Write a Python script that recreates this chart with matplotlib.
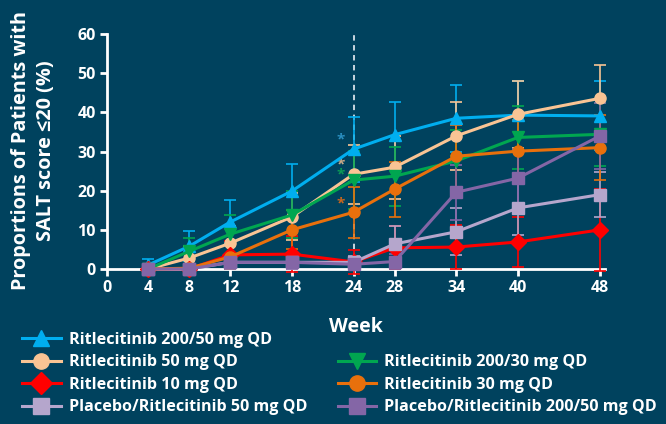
import matplotlib.pyplot as plt
from matplotlib.lines import Line2D

weeks = [4, 8, 12, 18, 24, 28, 34, 40, 48]
week_ticks = [0, 4, 8, 12, 18, 24, 28, 34, 40, 48]

# values (%), with half-width of the error bars
r200_50 = [1.0, 5.8, 12.0, 19.9, 30.6, 34.3, 38.5, 39.3, 39.1]
r200_50_err = [1.5, 3.8, 5.5, 7.0, 8.3, 8.4, 8.6, 8.6, 8.8]
r50 = [0.0, 2.8, 6.6, 13.3, 24.2, 26.0, 34.0, 39.5, 43.6]
r50_err = [0.0, 3.0, 4.5, 6.0, 7.5, 8.0, 8.6, 8.5, 8.5]
r10 = [0.0, 0.0, 3.6, 3.8, 1.8, 5.4, 5.6, 6.9, 10.0]
r10_err = [0.0, 0.0, 3.5, 4.5, 3.0, 5.5, 5.6, 6.4, 10.5]
pbo50 = [0.0, 0.0, 1.7, 1.7, 1.7, 6.4, 9.5, 15.6, 19.0]
pbo50_err = [0.0, 0.0, 1.7, 1.7, 1.7, 4.5, 6.0, 7.0, 5.8]
r200_30 = [0.0, 4.5, 8.9, 13.8, 22.7, 23.7, 27.6, 33.6, 34.4]
r200_30_err = [0.0, 3.5, 5.0, 6.0, 7.5, 7.5, 7.8, 8.0, 8.0]
r30 = [0.0, 0.2, 3.1, 10.0, 14.5, 20.4, 28.8, 30.1, 31.0]
r30_err = [0.0, 0.0, 3.0, 5.0, 6.5, 7.0, 8.0, 8.0, 8.3]
pbo200_50 = [0.0, 0.0, 1.7, 1.7, 1.2, 1.9, 19.6, 23.2, 34.0]
pbo200_50_err = [0.0, 0.0, 1.7, 1.7, 1.2, 2.0, 7.0, 7.5, 8.5]

# significance stars near week 24
star_y = [33.0, 26.8, 24.2, 16.8]
star_colors = ['#2a8fc0', '#c8a887', '#0c9a55', '#c8661e']

bg = '#00425e'
series = [
    ('Ritlecitinib 200/50 mg QD', r200_50, r200_50_err, '#00aeef', '^'),
    ('Ritlecitinib 50 mg QD', r50, r50_err, '#f9c494', 'o'),
    ('Ritlecitinib 10 mg QD', r10, r10_err, '#ff0000', 'D'),
    ('Placebo/Ritlecitinib 50 mg QD', pbo50, pbo50_err, '#b5a6cc', 's'),
    ('Ritlecitinib 200/30 mg QD', r200_30, r200_30_err, '#00a650', 'v'),
    ('Ritlecitinib 30 mg QD', r30, r30_err, '#e8700c', 'o'),
    ('Placebo/Ritlecitinib 200/50 mg QD', pbo200_50, pbo200_50_err, '#8466a6', 's'),
]

plt.rcParams['font.family'] = ['Open Sans', 'DejaVu Sans']
fig = plt.figure(figsize=(6.66, 4.24), dpi=100, facecolor=bg)
ax = fig.add_axes([0.1607, 0.3656, 0.748, 0.554], facecolor=bg)

ax.axvline(24, color='#d8e2ea', ls=(0, (3, 2.5)), lw=1.3, zorder=1)

handles = []
for name, vals, err, col, mk in series:
    ax.errorbar(weeks, vals, yerr=err, color=col, lw=2.2, marker=mk, ms=8,
                capsize=4, elinewidth=1.2, capthick=1.2, clip_on=False, zorder=3)
    handles.append(Line2D([], [], color=col, lw=2.2, marker=mk, ms=11))

for yv, c in zip(star_y, star_colors):
    ax.text(22.7, yv, '*', color=c, fontsize=11, fontweight='bold', ha='center', va='center')

ax.set_xlim(0, 48.5)
ax.set_ylim(0, 60)
ax.set_xticks(week_ticks)
ax.set_yticks(range(0, 61, 10))
for s in ['top', 'right']:
    ax.spines[s].set_visible(False)
for s in ['left', 'bottom']:
    ax.spines[s].set_color('white')
    ax.spines[s].set_linewidth(2)
ax.tick_params(colors='white', width=2, length=5, labelsize=11.5, pad=3)
for t in ax.get_xticklabels() + ax.get_yticklabels():
    t.set_fontweight('bold')

ax.set_xlabel('Week', color='white', fontsize=14, fontweight='bold', labelpad=15)
fig.text(0.05, 0.644, 'Proportions of Patients with\nSALT score ≤20 (%)', color='white',
         fontsize=14.3, fontweight='bold', rotation=90, ha='center', va='center', linespacing=1.3)

# blank entry pushes the second column down one row
handles.insert(4, Line2D([], [], color='none'))
labels = [s[0] for s in series]
labels.insert(4, '')
leg = fig.legend(handles, labels, ncol=2, loc='upper left', bbox_to_anchor=(0.033, 1 - 332 / 424),
                 frameon=False, fontsize=11.6, handlelength=2.4, columnspacing=1.9,
                 labelspacing=0.4, handletextpad=0.5, borderpad=0, borderaxespad=0)
for t in leg.get_texts():
    t.set_color('white')
    t.set_fontweight('bold')

plt.savefig('out.png', dpi=100, facecolor=bg)
